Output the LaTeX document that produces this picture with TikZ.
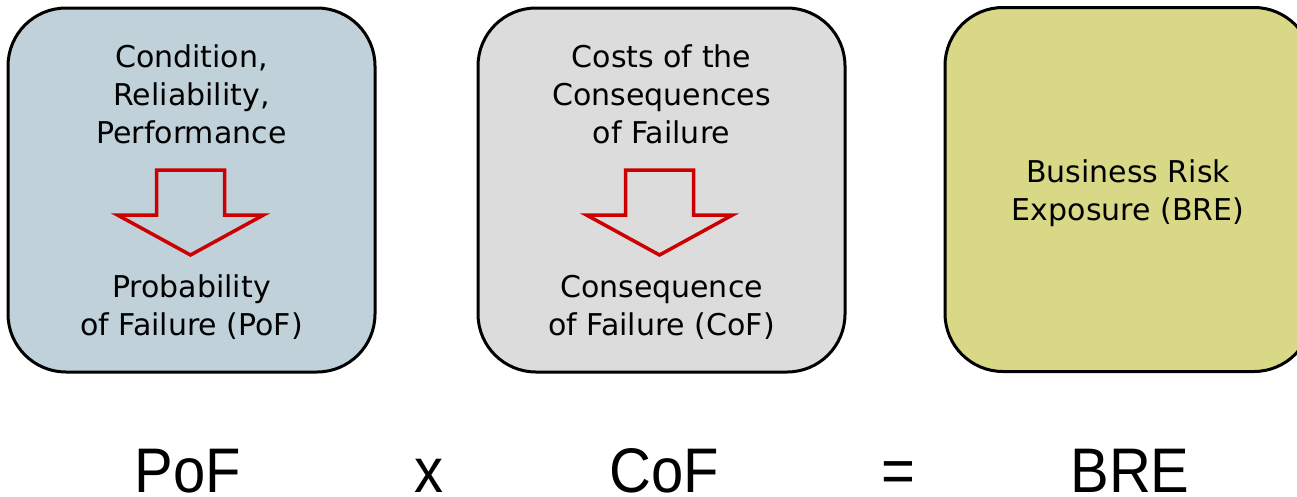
\documentclass[tikz,border=0pt]{standalone}
\usepackage{fontspec}
\setmainfont{DejaVu Sans}
\newfontfamily\eqfont{Liberation Sans}
\definecolor{pofblue}{HTML}{C0D1D9}
\definecolor{cofgrey}{HTML}{DCDCDC}
\definecolor{breolive}{HTML}{D9D886}
\definecolor{flowred}{HTML}{CC0000}
\newcommand{\stack}[1]{\begin{tabular}[t]{@{}c@{}}#1\end{tabular}}
\begin{document}
\begin{tikzpicture}[x=1pt,y=-1pt,
  card/.style={draw=black, line width=3pt, rounded corners=58pt,
    minimum width=367pt, minimum height=364pt, inner sep=0pt},
  label/.style={anchor=base, inner sep=0pt,
    font=\fontsize{30}{38}\selectfont},
  term/.style={anchor=base, inner sep=0pt, outer sep=0pt, xscale=0.92,
    text depth=0pt, font=\eqfont\fontsize{63}{70}\selectfont},
  pics/downarrow/.style={code={
    \draw[flowred, line width=3.5pt, miter limit=10]
      (-34,0) -- (34,0) -- (34,45) -- (73,45) -- (0,85)
      -- (-73,45) -- (-34,45) -- cycle;}}]
\useasboundingbox (0,0) rectangle (1297,496);
\clip (0,0) rectangle (1297,496);

% the three boxes
\node[card, fill=pofblue]  (pof) at (191.5,190) {};
\node[card, fill=cofgrey]  (cof) at (661.5,190) {};
\node[card, fill=breolive] (bre) at (1128.5,189.5) {};

% probability of failure
\node[label] (poftop) at (191.5,67) {\stack{Condition,\\Reliability,\\Performance}};
\pic at (190.5,170) {downarrow};
\node[label] (pofbot) at (191.5,297.5) {\stack{Probability\\of Failure (PoF)}};

% consequence of failure
\node[label] (coftop) at (661.5,67) {\stack{Costs of the\\Consequences\\of Failure}};
\pic at (659.5,170) {downarrow};
\node[label] (cofbot) at (661.5,297.5) {\stack{Consequence\\of Failure (CoF)}};

% business risk exposure
\node[label] (bretxt) at (1128,182) {\stack{Business Risk\\Exposure (BRE)}};

% the equation
\node[term] (e1) at (187.5,492) {PoF};
\node[term] (e2) at (429,492) {x};
\node[term] (e3) at (664.5,492) {CoF};
\node[term] (e4) at (898,492) {=};
\node[term] (e5) at (1130,492) {BRE};
\end{tikzpicture}
\end{document}
